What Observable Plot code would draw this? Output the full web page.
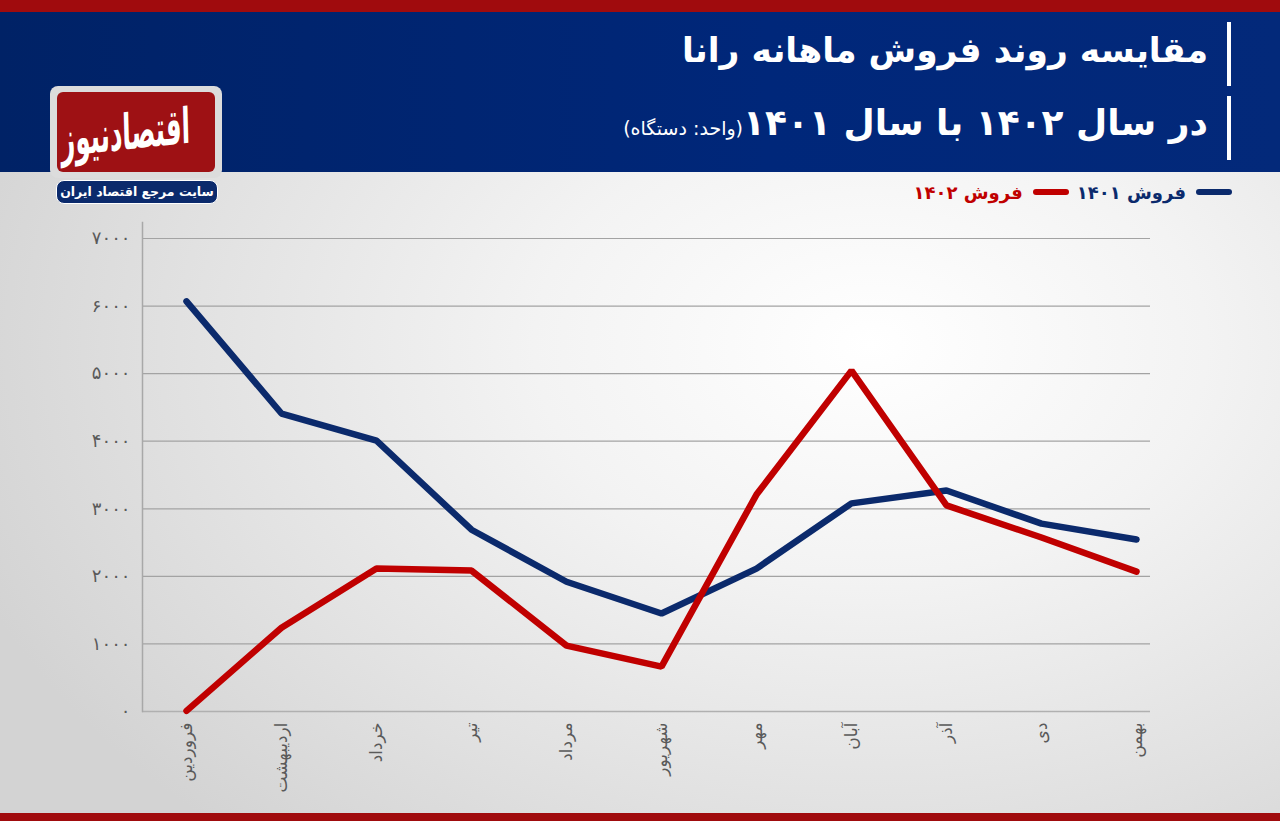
<!DOCTYPE html>
<html>
<head>
<meta charset="utf-8">
<script src="https://cdn.jsdelivr.net/npm/d3@7"></script>
<script src="https://cdn.jsdelivr.net/npm/@observablehq/plot@0.6"></script>
<style>
  html, body { margin: 0; padding: 0; }
  body { width: 1280px; height: 821px; overflow: hidden; position: relative; font-family: "DejaVu Sans", sans-serif; }
  #bg { position: absolute; left: 0; top: 0; width: 1280px; height: 821px;
        background: radial-gradient(ellipse 75% 80% at 68% 42%, #ffffff 0%, #f3f3f3 35%, #e2e2e2 70%, #d3d3d3 100%); }
  #topbar { position: absolute; left: 0; top: 0; width: 1280px; height: 12px; background: #a00b0d; }
  #header { position: absolute; left: 0; top: 12px; width: 1280px; height: 160px;
            background: linear-gradient(90deg, #002266 0%, #00277a 60%, #03297a 100%); }
  #botbar { position: absolute; left: 0; top: 813px; width: 1280px; height: 8px; background: #a00b0d; }
  .tline { position: absolute; right: 72px; color: #fff; font-weight: bold; direction: rtl; white-space: nowrap; }
  .vbar { position: absolute; left: 1227px; width: 4px; background: #fff; }
  #t1 { top: 30px; font-size: 34.5px; }
  #t2 { top: 102px; font-size: 36px; }
  #t2 small { font-size: 19px; font-weight: normal; }
  #logo { position: absolute; left: 50px; top: 86px; width: 172px; height: 92px; background: #dcdcdc; border-radius: 8px; }
  #logoin { position: absolute; left: 7px; top: 6px; width: 158px; height: 80px; background: #9e1114; border-radius: 6px; overflow: hidden;
            color: #fff; font-weight: bold; font-size: 34px; text-align: center; line-height: 80px; direction: rtl; white-space: nowrap; }
  #logoin span { display: inline-block; transform: scaleX(0.72) scaleY(1.45) rotate(-3deg); }
  #pill { position: absolute; left: 56px; top: 180px; width: 160px; height: 22px; background: #0b2a6c; border-radius: 8px;
          border: 1.5px solid #fff; color: #fff; font-size: 12.5px; font-weight: bold; text-align: center; line-height: 22px; direction: rtl; }
  #legend { position: absolute; top: 178px; right: 48px; direction: rtl; font-weight: bold; font-size: 18px; white-space: nowrap; }
  #legend .item { display: inline-flex; align-items: center; margin-left: 8px; }
  #legend .sw { display: inline-block; width: 36px; height: 6px; border-radius: 3px; margin-left: 10px; }
  #chart { position: absolute; left: 0; top: 0; }
</style>
</head>
<body>
<div id="bg"></div>
<div id="topbar"></div>
<div id="header"></div>
<div class="vbar" style="top:22px;height:64px"></div>
<div class="vbar" style="top:96px;height:64px"></div>
<div class="tline" id="t1">مقایسه روند فروش ماهانه رانا</div>
<div class="tline" id="t2">در سال ۱۴۰۲ با سال ۱۴۰۱<small>(واحد: دستگاه)</small></div>
<div id="logo"><div id="logoin"><span>اقتصادنیوز</span></div></div>
<div id="pill">سایت مرجع اقتصاد ایران</div>
<div id="legend"></div>
<div id="botbar"></div>
<div id="chart"></div>
<script>
const months = ["فروردین", "اردیبهشت", "خرداد", "تیر", "مرداد", "شهریور", "مهر", "آبان", "آذر", "دی", "بهمن"];
const sales1401 = [6070, 4410, 4010, 2690, 1920, 1450, 2115, 3080, 3270, 2780, 2545];
const sales1402 = [10, 1240, 2115, 2085, 975, 665, 3210, 5045, 3050, 2575, 2070];
const seriesNames = ["فروش ۱۴۰۱", "فروش ۱۴۰۲"];
const seriesColors = ["#0b2a6c", "#c00000"];
const yTicks = [0, 1000, 2000, 3000, 4000, 5000, 6000, 7000];

const fa = s => String(s).replace(/\d/g, d => "۰۱۲۳۴۵۶۷۸۹"[d]);

const d1401 = months.map((m, i) => ({month: m, value: sales1401[i]}));
const d1402 = months.map((m, i) => ({month: m, value: sales1402[i]}));

const legend = document.getElementById("legend");
seriesNames.forEach((n, i) => {
  const it = document.createElement("span");
  it.className = "item";
  it.innerHTML = `<span class="sw" style="background:${seriesColors[i]}"></span><span style="color:${seriesColors[i]}">${n}</span>`;
  legend.appendChild(it);
});

const chart = Plot.plot({
  width: 1280,
  height: 821,
  marginLeft: 142,
  marginRight: 130,
  marginTop: 222,
  marginBottom: 110,
  style: {background: "transparent", fontFamily: "DejaVu Sans, sans-serif"},
  x: {type: "point", domain: months, range: [184, 1138], padding: 0, label: null},
  y: {domain: [0, 7000], range: [711, 238], label: null},
  marks: [
    Plot.ruleY(yTicks.filter(d => d > 0), {stroke: "#a3a3a3", strokeWidth: 1.2}),
    Plot.ruleY([0], {stroke: "#b0b0b0", strokeWidth: 1.5}),
    Plot.frame({anchor: "left", stroke: "#a8a8a8", strokeWidth: 1.5}),
    Plot.axisY({ticks: yTicks, tickSize: 0, tickPadding: 12, tickFormat: fa, fontSize: 18, fill: "#5a5a5a", label: null}),
    Plot.axisX({tickSize: 0, tickPadding: 11, tickRotate: -90, fontSize: 17, fill: "#5a5a5a", label: null}),
    Plot.line(d1401, {x: "month", y: "value", stroke: seriesColors[0], strokeWidth: 6.5, strokeLinecap: "round", strokeLinejoin: "miter"}),
    Plot.line(d1402, {x: "month", y: "value", stroke: seriesColors[1], strokeWidth: 6.5, strokeLinecap: "round", strokeLinejoin: "miter"})
  ]
});
document.getElementById("chart").appendChild(chart);
</script>
</body>
</html>
